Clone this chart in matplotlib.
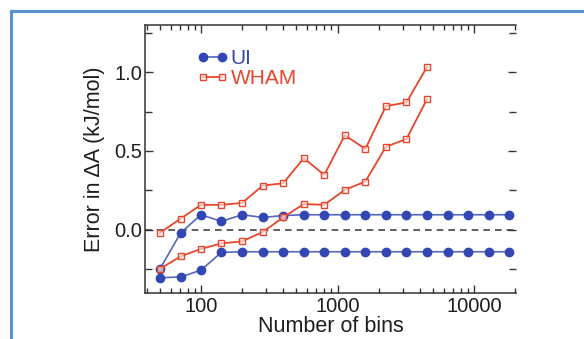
import matplotlib
matplotlib.use("Agg")
import matplotlib.pyplot as plt
from matplotlib.lines import Line2D
import matplotlib.ticker as mticker

# ---- data ----
bins = [50, 71, 100, 141, 200, 283, 400, 566, 800, 1131, 1600, 2263, 3200,
        4525, 6400, 9051, 12800, 18102]
ui_upper = [-0.25, -0.02, 0.095, 0.053, 0.095, 0.078, 0.09, 0.095, 0.095, 0.095,
            0.095, 0.095, 0.095, 0.095, 0.095, 0.095, 0.095, 0.095]
ui_lower = [-0.305, -0.30, -0.257, -0.144, -0.14, -0.14, -0.14, -0.14, -0.14,
            -0.14, -0.14, -0.14, -0.14, -0.14, -0.14, -0.14, -0.14, -0.14]
wham_bins = bins[:14]
wham_upper = [-0.02, 0.07, 0.158, 0.158, 0.17, 0.28, 0.295, 0.454, 0.348, 0.60,
              0.513, 0.785, 0.808, 1.034]
wham_lower = [-0.249, -0.169, -0.122, -0.087, -0.074, -0.015, 0.078, 0.163,
              0.158, 0.253, 0.306, 0.527, 0.576, 0.829]
y_ticks = [0.0, 0.5, 1.0]
y_tick_labels = ["0.0", "0.5", "1.0"]
x_ticks = [100, 1000, 10000]
x_tick_labels = ["100", "1000", "10000"]

plt.rcParams['font.family'] = ['Liberation Sans', 'DejaVu Sans']

BLUE = "#3246b4"
BLUE_LINE = "#5466c0"
RED = "#e8452c"
TXT = "#1e1e1e"

fig = plt.figure(figsize=(5.84, 3.39), dpi=100)
fig.patch.set_facecolor("white")

# blue frame (open to right/bottom edges)
fig.add_artist(Line2D([10.5/584, 10.5/584], [0, 1 - 11/339], transform=fig.transFigure,
                      color="#5b8fd6", lw=2.2, solid_capstyle="projecting"))
fig.add_artist(Line2D([10.5/584, 1.0], [1 - 11/339, 1 - 11/339], transform=fig.transFigure,
                      color="#5b8fd6", lw=2.2, solid_capstyle="projecting"))

ax = fig.add_axes([145/584, 1 - 292.7/339, (516 - 145)/584, (292.7 - 25)/339])
ax.set_facecolor("white")

ax.axhline(0, color="#444444", lw=1.2, ls=(0, (4, 3)), zorder=1)

ax.plot(bins, ui_upper, color=BLUE_LINE, lw=1.2, marker="o", ms=6,
        mfc=BLUE, mec=BLUE, zorder=3, label="UI")
ax.plot(bins, ui_lower, color=BLUE_LINE, lw=1.2, marker="o", ms=6,
        mfc=BLUE, mec=BLUE, zorder=3)
ax.plot(wham_bins, wham_upper, color=RED, lw=1.3, marker="s", ms=5,
        mfc=(1, 1, 1, 0.6), mec=RED, mew=1.0, zorder=4, label="WHAM")
ax.plot(wham_bins, wham_lower, color=RED, lw=1.3, marker="s", ms=5,
        mfc=(1, 1, 1, 0.6), mec=RED, mew=1.0, zorder=4)

ax.set_xscale("log")
ax.set_xlim(38.9, 20300)
ax.set_ylim(-0.4, 1.3)

ax.set_xticks(x_ticks)
ax.set_xticklabels(x_tick_labels)
ax.xaxis.set_minor_locator(mticker.LogLocator(base=10, subs=range(2, 10)))
ax.xaxis.set_minor_formatter(mticker.NullFormatter())
ax.set_yticks(y_ticks)
ax.set_yticklabels(y_tick_labels)
ax.yaxis.set_minor_locator(mticker.MultipleLocator(0.25))

ax.tick_params(which="both", direction="in", top=True, right=True,
               color="#333333", width=1.0, labelsize=14.5, labelcolor=TXT)
ax.tick_params(which="major", length=6)
ax.tick_params(which="minor", length=3.5)
ax.tick_params(axis="y", which="minor", length=5)
ax.tick_params(axis="y", pad=2)
ax.tick_params(axis="x", pad=3)

for s in ["left", "bottom", "top"]:
    ax.spines[s].set_color("#333333")
    ax.spines[s].set_linewidth(1.1)
ax.spines["right"].set_visible(False)

ax.set_xlabel("Number of bins", fontsize=15.5, color=TXT)
ax.set_ylabel("Error in ΔA (kJ/mol)", fontsize=15.5, color=TXT)
ax.xaxis.set_label_coords(0.5, -0.087)
ax.yaxis.set_label_coords(-0.108, 0.5)

leg = ax.legend(loc="upper left", bbox_to_anchor=(0.117, 0.94), frameon=False,
                numpoints=2, handlelength=1.5, handletextpad=0.12,
                labelspacing=0.05, fontsize=15, borderaxespad=0,
                labelcolor="markeredgecolor")

fig.savefig("out.png", dpi=100, facecolor="white")
